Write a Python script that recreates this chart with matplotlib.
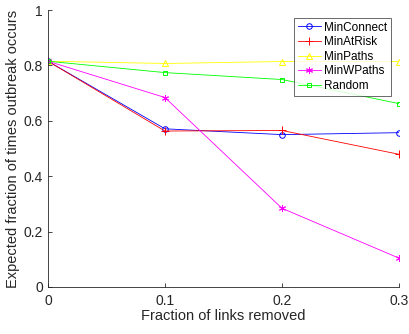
import matplotlib
matplotlib.use("Agg")
import matplotlib.pyplot as plt

# Data
frac_removed = [0, 0.1, 0.2, 0.3]
min_connect = [0.815, 0.571, 0.550, 0.557]
min_at_risk = [0.815, 0.563, 0.565, 0.479]
min_paths = [0.815, 0.807, 0.814, 0.814]
min_wpaths = [0.815, 0.684, 0.284, 0.104]
random_rm = [0.815, 0.774, 0.749, 0.662]

plt.rcParams['font.family'] = ['Liberation Sans', 'DejaVu Sans']

fig = plt.figure(figsize=(4.10, 3.34), dpi=100)
ax = fig.add_axes([0.117, 0.141, 0.856, 0.829])

lw = 0.6
ms = 4
mew = 0.7
ax.plot(frac_removed, min_connect, color='blue', marker='o', mfc='none', lw=lw, ms=ms, mew=mew, label='MinConnect')
ax.plot(frac_removed, min_at_risk, color='red', marker='+', lw=lw, ms=ms + 1.5, mew=mew, label='MinAtRisk')
ax.plot(frac_removed, min_paths, color='yellow', marker='^', mfc='none', lw=lw, ms=ms, mew=mew, label='MinPaths')
ax.plot(frac_removed, min_wpaths, color='magenta', marker=(6, 2, 0), lw=lw, ms=ms + 1, mew=mew, label='MinWPaths')
ax.plot(frac_removed, random_rm, color='#00ff00', marker='s', mfc='none', lw=lw, ms=ms - 0.7, mew=mew, label='Random')

ax.set_xlim(0, 0.3)
ax.set_ylim(0, 1)
ax.set_xticks([0, 0.1, 0.2, 0.3])
ax.set_xticklabels(['0', '0.1', '0.2', '0.3'])
ax.set_yticks([0, 0.2, 0.4, 0.6, 0.8, 1])
ax.set_yticklabels(['0', '0.2', '0.4', '0.6', '0.8', '1'])

for s in ['top', 'right']:
    ax.spines[s].set_visible(False)
for s in ['left', 'bottom']:
    ax.spines[s].set_color('#262626')
    ax.spines[s].set_linewidth(0.6)
ax.tick_params(direction='in', length=3, width=0.6, labelsize=10, colors='#262626')
ax.tick_params(axis='x', pad=5)

ax.set_xlabel('Fraction of links removed', fontsize=10.5, color='#262626', labelpad=1)
ax.set_ylabel('Expected fraction of times outbreak occurs', fontsize=10.5, color='#262626', labelpad=3)

leg = ax.legend(loc='upper right', bbox_to_anchor=(0.977, 0.971), fontsize=8.5, frameon=True, fancybox=False,
                handlelength=2.0, handletextpad=0.25, borderpad=0.3, labelspacing=0.22, borderaxespad=0)
leg.get_frame().set_edgecolor('#262626')
leg.get_frame().set_linewidth(0.6)

fig.savefig('out.png', dpi=100)
